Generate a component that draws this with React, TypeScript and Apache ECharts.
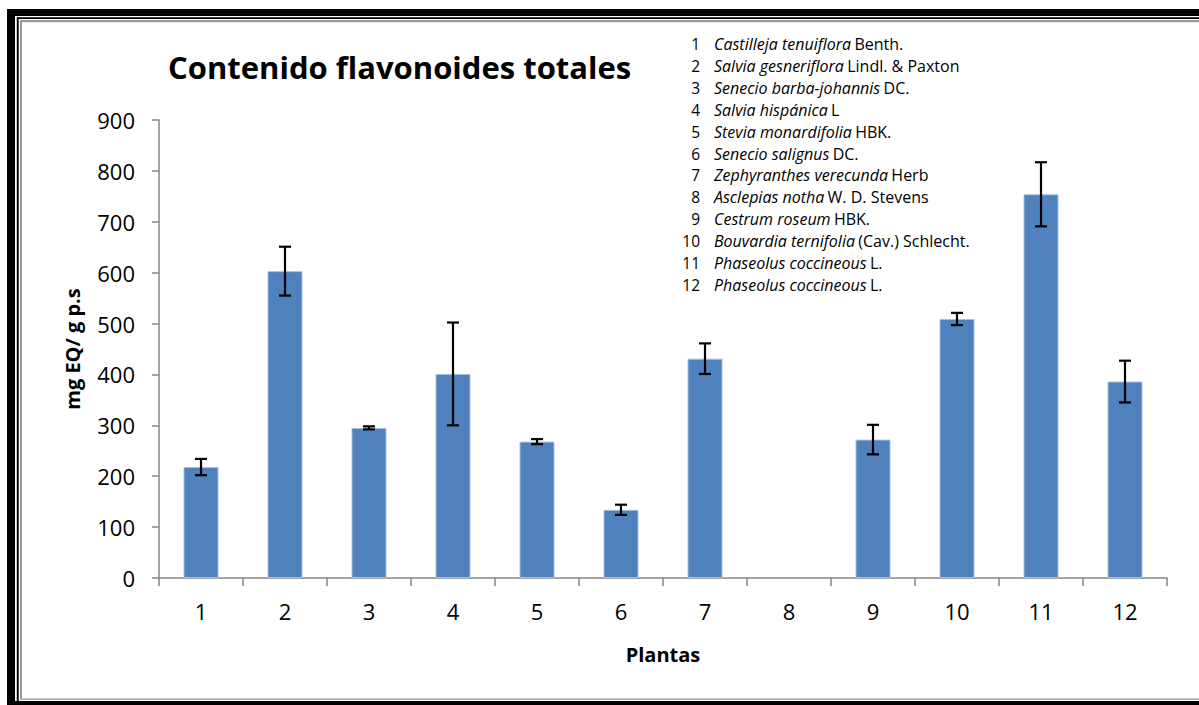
import React, { useEffect, useRef } from "react";
import * as echarts from "echarts";

const categories = ["1", "2", "3", "4", "5", "6", "7", "8", "9", "10", "11", "12"];
const values = [218, 603, 295, 401, 268, 134, 431, 0, 272, 509, 754, 386];
const errors = [16, 48, 3, 101, 5, 10, 30, 0, 29, 12, 63, 41];
const yTicks = { min: 0, max: 900, interval: 100 };

const legendNumbers = ["1", "2", "3", "4", "5", "6", "7", "8", "9", "10", "11", "12"];
const legendSpecies = [
  "Castilleja tenuiflora",
  "Salvia gesneriflora",
  "Senecio barba-johannis",
  "Salvia hispánica",
  "Stevia monardifolia",
  "Senecio salignus",
  "Zephyranthes verecunda",
  "Asclepias notha",
  "Cestrum roseum",
  "Bouvardia ternifolia",
  "Phaseolus coccineous",
  "Phaseolus coccineous",
];
const legendAuthors = [
  "Benth.",
  "Lindl. & Paxton",
  "DC.",
  "L",
  "HBK.",
  "DC.",
  "Herb",
  "W. D. Stevens",
  "HBK.",
  "(Cav.) Schlecht.",
  "L.",
  "L.",
];

const FONT = "'Open Sans', 'Noto Sans', sans-serif";

export default function App() {
  const ref = useRef<HTMLDivElement>(null);

  useEffect(() => {
    if (!ref.current) return;
    const chart = echarts.init(ref.current, undefined, { renderer: "svg" });

    const errData = values
      .map((v, i) => [i, v - errors[i], v + errors[i], errors[i]])
      .filter((d) => d[3] > 0);

    const barData = values.map((v) =>
      v === 0 ? { value: v, itemStyle: { borderWidth: 0 } } : v
    );

    const legendEls: any[] = [];
    legendNumbers.forEach((n, i) => {
      const y = 44 + i * 21.9;
      legendEls.push({
        type: "text",
        x: 700,
        y,
        style: {
          text: n,
          font: `15.5px ${FONT}`,
          fill: "#000",
          align: "right",
          verticalAlign: "middle",
        },
      });
      legendEls.push({
        type: "text",
        x: 714,
        y,
        style: {
          text: `{i|${legendSpecies[i]}} {r|${legendAuthors[i]}}`,
          verticalAlign: "middle",
          rich: {
            i: { fontFamily: FONT, fontSize: 16, fontStyle: "italic", fill: "#000" },
            r: { fontFamily: FONT, fontSize: 16, fill: "#000" },
          },
        },
      });
    });

    const frame: any[] = [
      { type: "rect", shape: { x: 7, y: 9, width: 1200, height: 7 }, style: { fill: "#000" } },
      { type: "rect", shape: { x: 7, y: 9, width: 8, height: 700 }, style: { fill: "#000" } },
      { type: "rect", shape: { x: 7, y: 701, width: 1200, height: 6 }, style: { fill: "#000" } },
      { type: "rect", shape: { x: 17, y: 17.3, width: 1190, height: 1.7 }, style: { fill: "#000" } },
      { type: "rect", shape: { x: 16.8, y: 17.3, width: 1.9, height: 684 }, style: { fill: "#000" } },
      { type: "rect", shape: { x: 20, y: 20, width: 1190, height: 2.2 }, style: { fill: "#9a9a9a" } },
      { type: "rect", shape: { x: 20, y: 20, width: 2, height: 680 }, style: { fill: "#9a9a9a" } },
      { type: "rect", shape: { x: 20, y: 698.3, width: 1190, height: 1.7 }, style: { fill: "#b0b0b0" } },
    ];

    chart.setOption({
      animation: false,
      backgroundColor: "#fff",
      title: {
        text: "Contenido flavonoides totales",
        left: 163,
        top: 46,
        textStyle: { fontFamily: FONT, fontSize: 31, fontWeight: "bold", color: "#000" },
      },
      grid: { left: 159, right: 32, top: 120, bottom: 127, containLabel: false },
      xAxis: {
        type: "category",
        data: categories,
        name: "Plantas",
        nameLocation: "middle",
        nameGap: 66,
        nameTextStyle: { fontFamily: FONT, fontSize: 20, fontWeight: "bold", color: "#000" },
        axisLine: { lineStyle: { color: "#868686", width: 1.5 } },
        axisTick: { show: true, length: 8, interval: 0, lineStyle: { color: "#868686", width: 1.5 } },
        axisLabel: { fontFamily: FONT, fontSize: 22, color: "#000", margin: 22 },
        splitLine: { show: false },
      },
      yAxis: {
        type: "value",
        min: yTicks.min,
        max: yTicks.max,
        interval: yTicks.interval,
        name: "mg EQ/ g p.s",
        nameLocation: "middle",
        nameGap: 77,
        nameRotate: 90,
        nameTextStyle: { fontFamily: FONT, fontSize: 20, fontWeight: "bold", color: "#000" },
        axisLine: { show: true, lineStyle: { color: "#868686", width: 1.5 } },
        axisTick: { show: true, length: 7, lineStyle: { color: "#868686", width: 1.5 } },
        axisLabel: { fontFamily: FONT, fontSize: 22, color: "#000", margin: 24 },
        splitLine: { show: false },
      },
      series: [
        {
          type: "bar",
          data: barData,
          barWidth: 35,
          itemStyle: { color: "#4f81bd", borderColor: "#a9c0de", borderWidth: 1 },
        },
        {
          type: "custom",
          data: errData,
          z: 10,
          renderItem: (params: any, api: any) => {
            const idx = api.value(0);
            const lo = api.coord([idx, api.value(1)]);
            const hi = api.coord([idx, api.value(2)]);
            const x = lo[0];
            const cap = 6;
            const st = { stroke: "#000", lineWidth: 2.2 };
            return {
              type: "group",
              children: [
                { type: "line", shape: { x1: x, y1: lo[1], x2: x, y2: hi[1] }, style: st },
                { type: "line", shape: { x1: x - cap, y1: lo[1], x2: x + cap, y2: lo[1] }, style: st },
                { type: "line", shape: { x1: x - cap, y1: hi[1], x2: x + cap, y2: hi[1] }, style: st },
              ],
            };
          },
        },
      ],
      graphic: [...frame, ...legendEls],
    });

    return () => chart.dispose();
  }, []);

  return (
    <div
      ref={ref}
      style={{ position: "absolute", left: 0, top: 0, width: 1199, height: 705 }}
    />
  );
}
